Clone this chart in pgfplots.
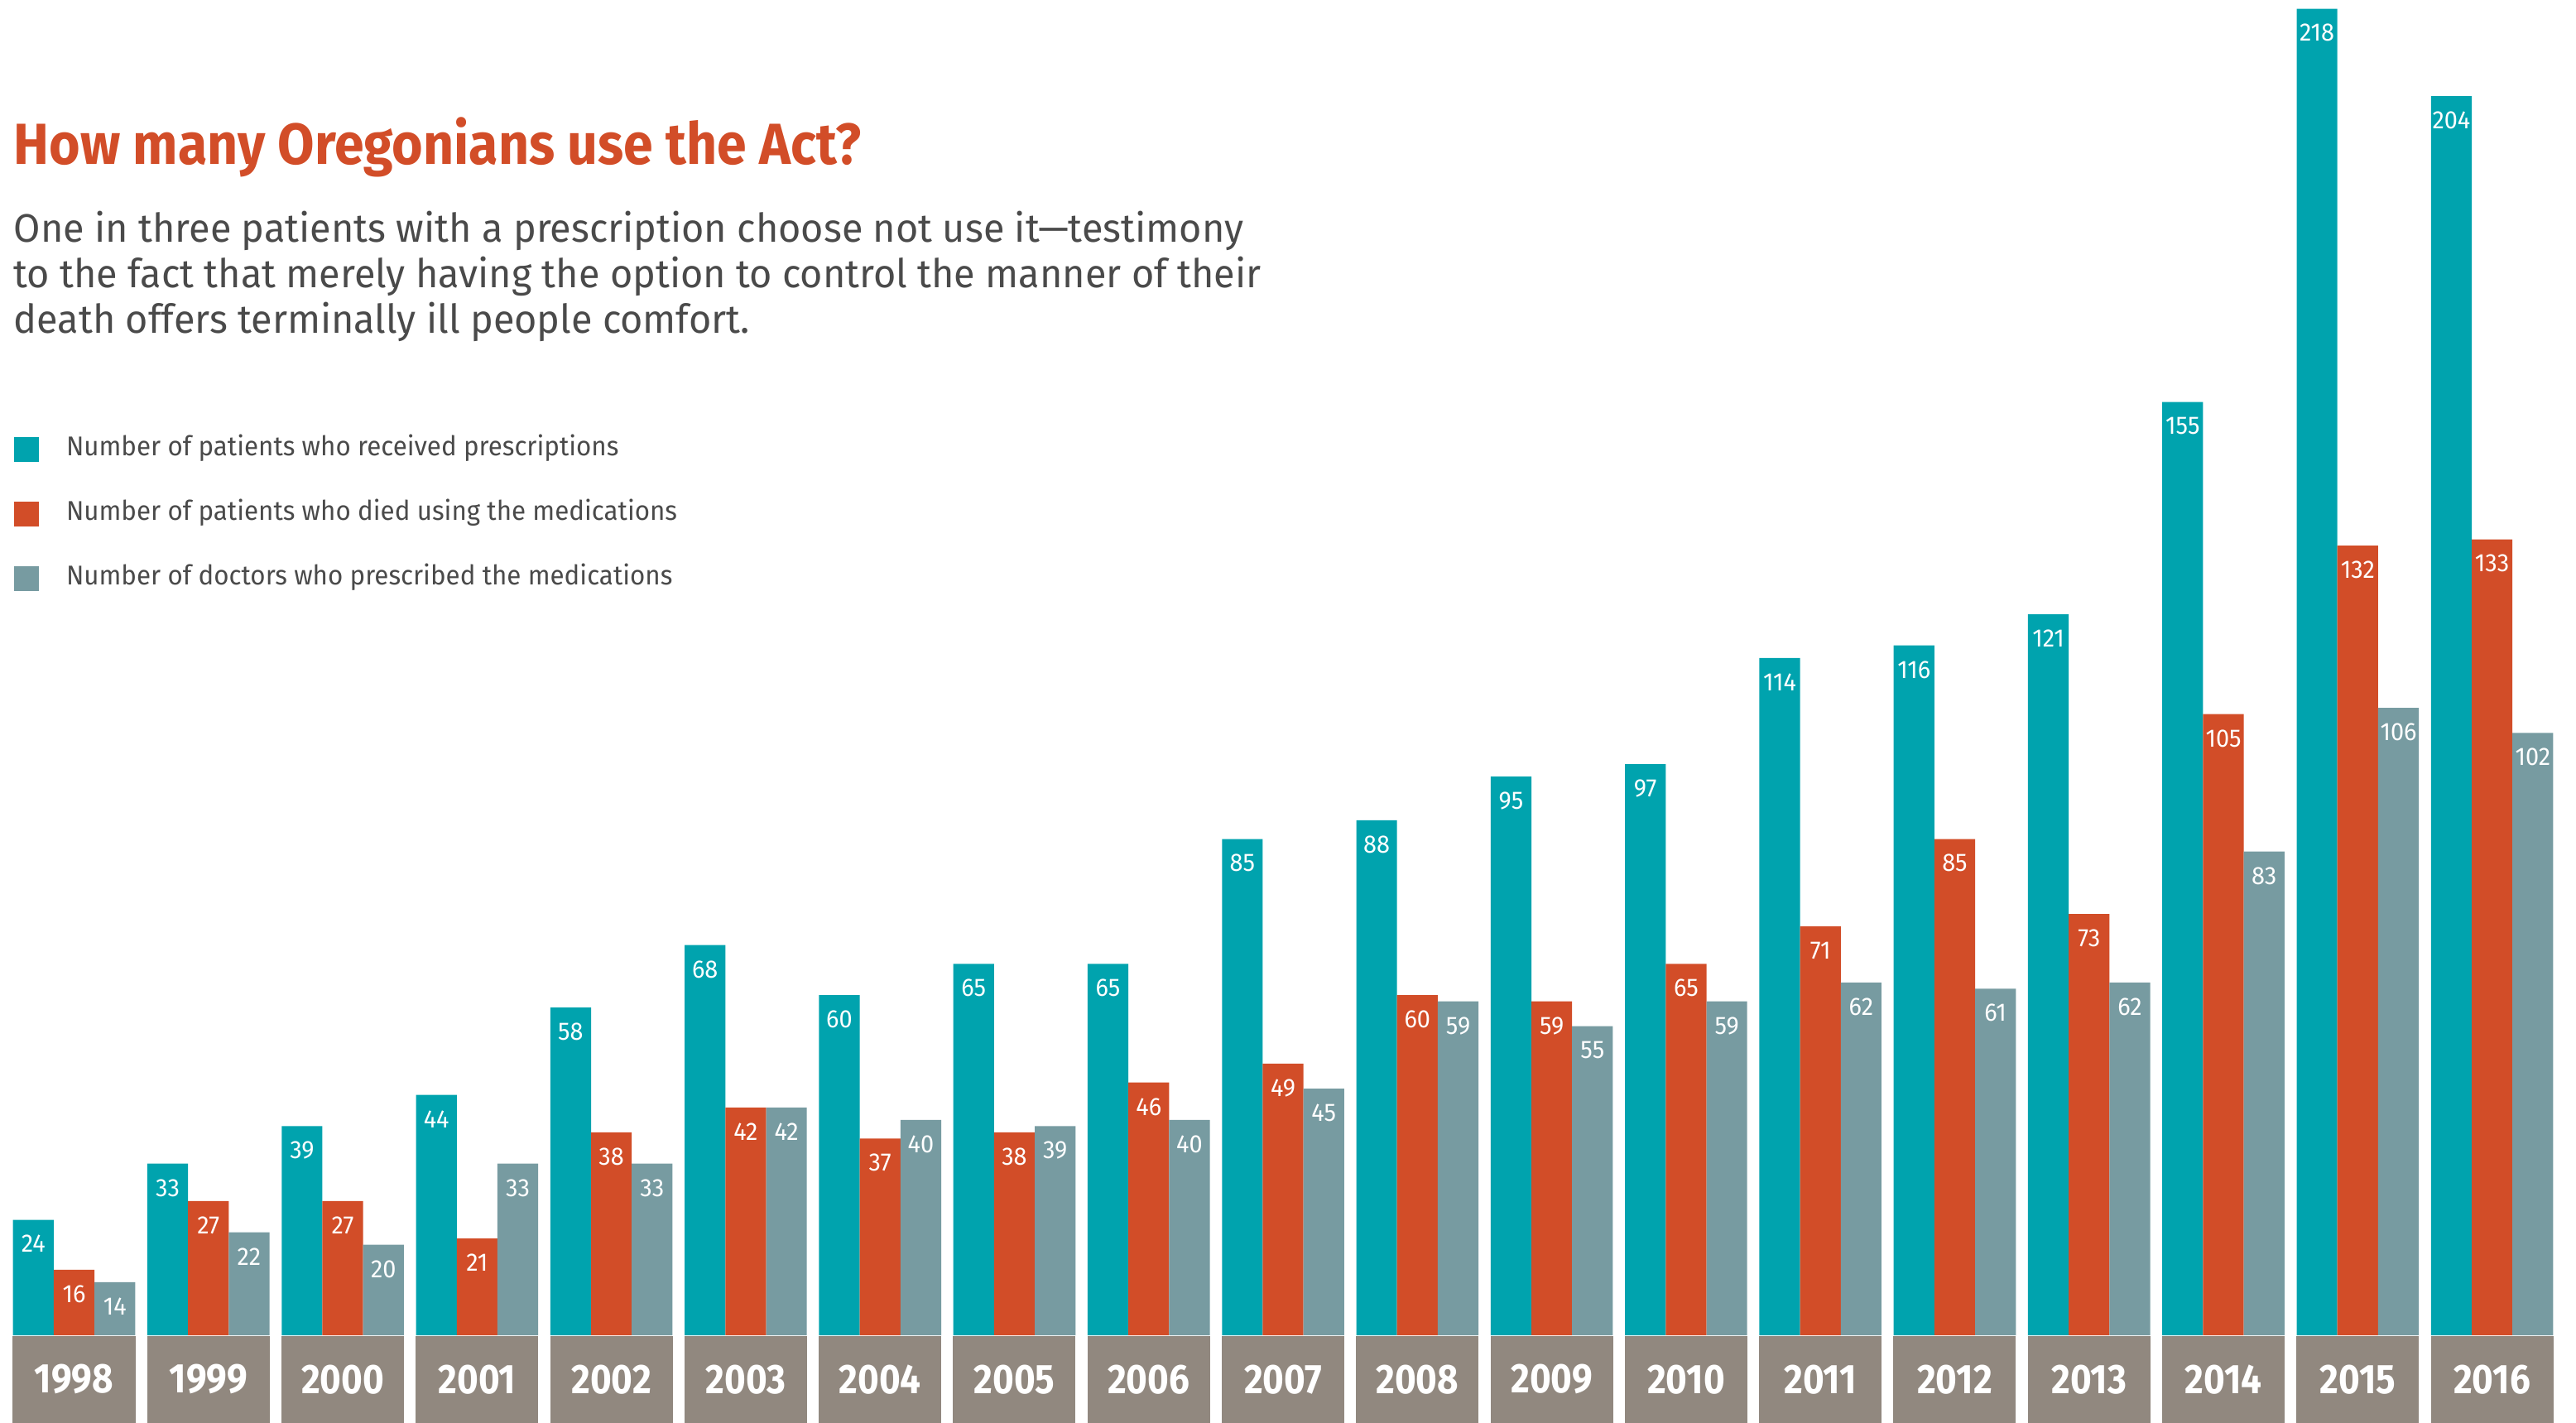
\documentclass[border=0pt]{standalone}
\usepackage{fontspec}
\setmainfont{Fira Sans}[FakeStretch=0.88]
\newfontfamily\subfont{Fira Sans}[FakeStretch=0.975]
\newfontfamily\titfont{Fira Sans}[FakeStretch=0.92]
\newfontfamily\legfont{Fira Sans}[FakeStretch=0.955]
\newfontfamily\valfont{Fira Sans}[FakeStretch=0.95]
\usepackage{pgfplots}
\pgfplotsset{compat=1.18}
\definecolor{cTeal}{RGB}{0,163,174}
\definecolor{cRed}{RGB}{210,77,40}
\definecolor{cSteel}{RGB}{119,155,161}
\definecolor{cBox}{RGB}{145,136,127}
\definecolor{cText}{RGB}{74,74,74}
\begin{document}
\begin{tikzpicture}
\useasboundingbox (0,0) rectangle (778pt,429.5pt);
\begin{axis}[
  at={(0pt,26.25pt)}, anchor=south west,
  scale only axis, width=778pt, height=403.25pt,
  xmin=-0.5515, xmax=18.625, ymin=5.5, ymax=219.4,
  ybar=0pt, bar width=12.3pt,
  axis line style={draw=none}, major tick length=0pt,
  ytick=\empty,
  /pgf/number format/assume math mode=true,
  xtick={0,1,...,18},
  xticklabels={1998,1999,2000,2001,2002,2003,2004,2005,2006,2007,2008,2009,2010,2011,2012,2013,2014,2015,2016},
  xticklabel style={fill=cBox, text=white, font=\bfseries\fontsize{12.5}{13}\selectfont, minimum width=37pt, minimum height=26.25pt, inner sep=0pt, anchor=north},
  nodes near coords,
  nodes near coords style={text=white, font=\valfont\fontsize{7.6}{8}\selectfont, anchor=north, inner sep=0pt, yshift=-4.5pt},
  legend style={draw=none, fill=none, at={(0.00514,0.674)}, anchor=north west, inner sep=0pt, row sep=11.5pt, column sep=8.3pt, font=\legfont\fontsize{8.2}{9}\selectfont\color{cText}, nodes={inner sep=0pt, text height=6pt, text depth=2pt}},
  legend cell align=left,
  legend image code/.code={\fill[#1] (0pt,-3.75pt) rectangle (7.5pt,3.75pt);},
]
\addplot[fill=cTeal, draw=none] coordinates {(0,24) (1,33) (2,39) (3,44) (4,58) (5,68) (6,60) (7,65) (8,65) (9,85) (10,88) (11,95) (12,97) (13,114) (14,116) (15,121) (16,155) (17,218) (18,204)};
\addlegendentry{Number of patients who received prescriptions}
\addplot[fill=cRed, draw=none] coordinates {(0,16) (1,27) (2,27) (3,21) (4,38) (5,42) (6,37) (7,38) (8,46) (9,49) (10,60) (11,59) (12,65) (13,71) (14,85) (15,73) (16,105) (17,132) (18,133)};
\addlegendentry{Number of patients who died using the medications}
\addplot[fill=cSteel, draw=none] coordinates {(0,14) (1,22) (2,20) (3,33) (4,33) (5,42) (6,40) (7,39) (8,40) (9,45) (10,59) (11,55) (12,59) (13,62) (14,61) (15,62) (16,83) (17,106) (18,102)};
\addlegendentry{Number of doctors who prescribed the medications}
\end{axis}
\node[anchor=base west, inner sep=0pt, text=cRed, font=\titfont\bfseries\fontsize{17.5}{20}\selectfont] at (4pt,379.9pt) {How many Oregonians use the Act?};
\node[anchor=base west, inner sep=0pt, text=cText, font=\subfont\fontsize{12}{14}\selectfont] at (4pt,356.5pt) {One in three patients with a prescription choose not use it—testimony};
\node[anchor=base west, inner sep=0pt, text=cText, font=\subfont\fontsize{12}{14}\selectfont] at (4pt,342.6pt) {to the fact that merely having the option to control the manner of their};
\node[anchor=base west, inner sep=0pt, text=cText, font=\subfont\fontsize{12}{14}\selectfont] at (4pt,328.8pt) {death offers terminally ill people comfort.};
\end{tikzpicture}
\end{document}
